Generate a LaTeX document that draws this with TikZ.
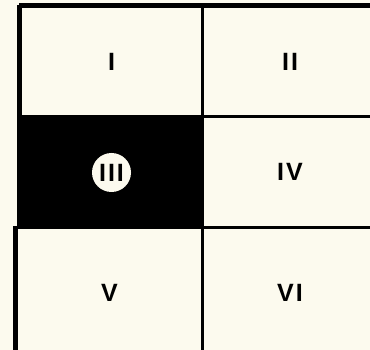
\documentclass[tikz,border=0pt]{standalone}
\usepackage{fontspec}
\setmainfont{Liberation Sans}[LetterSpace=8]
\definecolor{paper}{RGB}{252,250,238}
\newcommand{\cellfont}{\fontsize{25}{25}\selectfont\bfseries}
\begin{document}
\begin{tikzpicture}[x=1pt,y=-1pt,
  cell/.style={rectangle,draw=black,line width=3pt,inner sep=0pt,anchor=north west,
    font=\cellfont},
  topcell/.style={cell,minimum height=110pt},
  midcell/.style={cell,minimum height=111pt},
  botcell/.style={cell,minimum height=130pt},
  leftcol/.style={minimum width=182pt},
  rightcol/.style={minimum width=175pt},
  badge/.style={circle,fill=paper,minimum size=39pt,inner sep=0pt,
    font=\cellfont}
]
\fill[paper] (0,0) rectangle (370,350);
\useasboundingbox (0,0) rectangle (370,350);
\node[topcell,leftcol] (c1) at (19,5) {I};
\node[topcell,rightcol] (c2) at (201,5) {II};
\node[midcell,leftcol,fill=black] (c3) at (19,115) {};
\node[midcell,rightcol] (c4) at (201,115) {IV};
\node[botcell,leftcol,minimum width=186pt] (c5) at (15,226) {V};
\node[botcell,rightcol] (c6) at (201,226) {VI};
\node[badge] (n3) at ([yshift=-0.5pt]c3.center) {III};
\draw[line width=4pt] (c1.north west) -- (c2.north east);
\draw[line width=4pt] (c1.north west) -- (c3.south west);
\draw[line width=4pt] (c5.north west) -- (c5.south west);
\end{tikzpicture}
\end{document}
